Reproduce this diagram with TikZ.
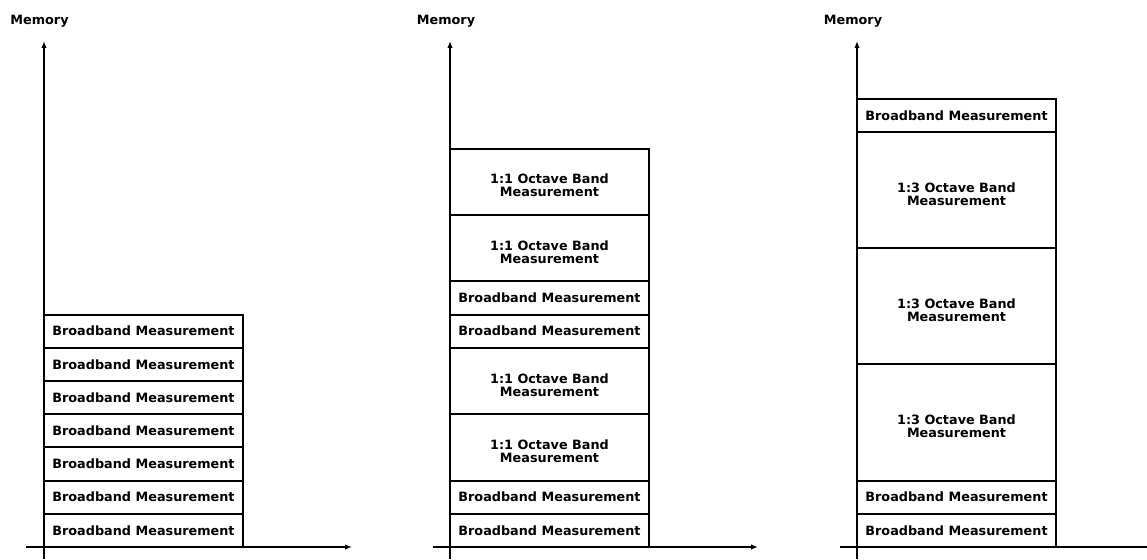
\documentclass[tikz,border=0pt]{standalone}
\usepackage{fontspec}
\setmainfont{DejaVu Sans}
\usepackage{tikz}
\usetikzlibrary{positioning,arrows.meta}

\begin{document}
\begin{tikzpicture}[
    x=1pt, y=-1pt,
    >={Latex[length=7pt,width=5.5pt]},
    font=\fontsize{12.8}{13}\selectfont\bfseries,
    bb/.style={
        draw=black,
        line width=2pt,
        outer sep=0pt,
        inner sep=0pt,
        minimum width=199pt,
        minimum height=33.2pt,
        align=center
    },
    oct/.style={
        bb,
        text height=30pt,
        text depth=0pt,
        minimum height=66.4pt
    },
    third/.style={
        oct,
        minimum height=116.2pt
    },
    axis/.style={->, line width=2pt},
    lbl/.style={font=\fontsize{12.8}{13}\selectfont\bfseries}
]
\clip (0,0) rectangle (1147,559);

% axes
\coordinate (oA) at (44,547);
\coordinate (oB) at (450,547);
\coordinate (oC) at (857,547);

\coordinate (ybotA) at (44,559);   \coordinate (ytopA) at (44,41);
\coordinate (ybotB) at (450,559);  \coordinate (ytopB) at (450,41);
\coordinate (ybotC) at (857,559);  \coordinate (ytopC) at (857,41);
\coordinate (xlA) at (26,547);     \coordinate (xrA) at (352,547);
\coordinate (xlB) at (433,547);    \coordinate (xrB) at (758,547);
\coordinate (xlC) at (840,547);    \coordinate (xrC) at (1164,547);

\node[lbl] (memA) at (39.5,21) {Memory};
\node[lbl] (memB) at (446,21) {Memory};
\node[lbl] (memC) at (853,21) {Memory};

% first panel
\node[bb, anchor=south west] (a1) at (oA) {Broadband Measurement};
\node[bb, above=0pt of a1] (a2) {Broadband Measurement};
\node[bb, above=0pt of a2] (a3) {Broadband Measurement};
\node[bb, above=0pt of a3] (a4) {Broadband Measurement};
\node[bb, above=0pt of a4] (a5) {Broadband Measurement};
\node[bb, above=0pt of a5] (a6) {Broadband Measurement};
\node[bb, above=0pt of a6] (a7) {Broadband Measurement};

% second panel
\node[bb, anchor=south west] (b1) at (oB) {Broadband Measurement};
\node[bb, above=0pt of b1] (b2) {Broadband Measurement};
\node[oct, above=0pt of b2] (b3) {1:1 Octave Band\\Measurement};
\node[oct, above=0pt of b3] (b4) {1:1 Octave Band\\Measurement};
\node[bb, above=0pt of b4] (b5) {Broadband Measurement};
\node[bb, above=0pt of b5] (b6) {Broadband Measurement};
\node[oct, above=0pt of b6] (b7) {1:1 Octave Band\\Measurement};
\node[oct, above=0pt of b7] (b8) {1:1 Octave Band\\Measurement};

% third panel
\node[bb, anchor=south west] (c1) at (oC) {Broadband Measurement};
\node[bb, above=0pt of c1] (c2) {Broadband Measurement};
\node[third, above=0pt of c2] (c3) {1:3 Octave Band\\Measurement};
\node[third, above=0pt of c3] (c4) {1:3 Octave Band\\Measurement};
\node[third, above=0pt of c4] (c5) {1:3 Octave Band\\Measurement};
\node[bb, above=0pt of c5] (c6) {Broadband Measurement};

\draw[axis] (ybotA) -- (ytopA);
\draw[axis] (xlA) -- (xrA);
\draw[axis] (ybotB) -- (ytopB);
\draw[axis] (xlB) -- (xrB);
\draw[axis] (ybotC) -- (ytopC);
\draw[axis] (xlC) -- (xrC);

\end{tikzpicture}
\end{document}
